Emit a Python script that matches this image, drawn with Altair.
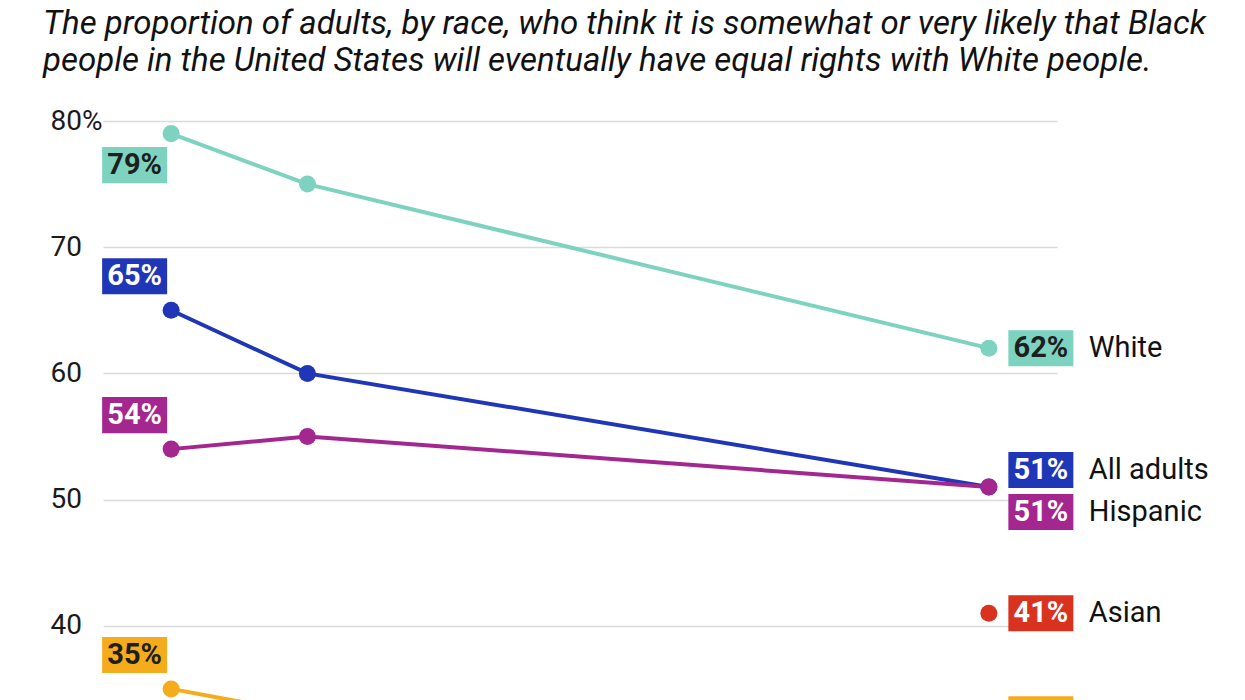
import altair as alt
import pandas as pd

# ---- data ----
years = [2018, 2019, 2024]
series = ["White", "All adults", "Hispanic", "Asian", "Black"]
white = [79, 75, 62]
all_adults = [65, 60, 51]
hispanic = [54, 55, 51]
asian = [None, None, 41]
black = [35, 33, 33]
colors = ["#7dd3c0", "#1f36b7", "#a4268f", "#d9331f", "#f4ac1c"]
y_ticks = [30, 40, 50, 60, 70, 80]
title_lines = [
    "The proportion of adults, by race, who think it is somewhat or very likely that Black",
    "people in the United States will eventually have equal rights with White people.",
]

values = {"White": white, "All adults": all_adults, "Hispanic": hispanic,
          "Asian": asian, "Black": black}
rows = []
for s in series:
    for yr, v in zip(years, values[s]):
        if v is not None:
            rows.append({"year": yr, "group": s, "pct": v, "label": f"{v}%"})
df = pd.DataFrame(rows)

FONT = "Roboto"
dark_text = {"White": "#1e1e1e", "Black": "#1e1e1e"}

x = alt.X("year:Q", scale=alt.Scale(domain=[2017.5, 2024.5], nice=False, zero=False), axis=None)
y = alt.Y(
    "pct:Q",
    scale=alt.Scale(domain=[30, 80], nice=False, zero=False),
    axis=alt.Axis(
        values=y_ticks, title=None, grid=True, gridColor="#dadada", gridWidth=1.5,
        domain=False, ticks=False, tickSize=0, labelFont=FONT, labelFontSize=28,
        labelColor="#1a1a1a", labelAlign="left", labelBaseline="middle", labelPadding=53,
        labelExpr="datum.value == 80 ? '80%' : datum.label",
    ),
)
color = alt.Color("group:N", scale=alt.Scale(domain=series, range=colors), legend=None)

base = alt.Chart(df)
lines = base.mark_line(strokeWidth=4).encode(x=x, y=y, color=color, detail="group:N")
points = base.mark_circle(size=290, opacity=1).encode(x=x, y=y, color=color)

BOX = "M-1,-0.554L1,-0.554L1,0.554L-1,0.554Z"

def label_layers(s, yr, dx, dy, with_name):
    sel = base.transform_filter((alt.datum.group == s) & (alt.datum.year == yr))
    out = [
        sel.mark_point(shape=BOX, size=4225, filled=True, opacity=1, strokeWidth=0,
                       xOffset=dx, yOffset=dy).encode(x=x, y=y, color=color),
        sel.mark_text(font=FONT, fontSize=29, fontWeight="bold", align="center",
                      baseline="middle", xOffset=dx, yOffset=dy,
                      color=dark_text.get(s, "#ffffff")).encode(x=x, y=y, text="label:N"),
    ]
    if with_name:
        out.append(sel.mark_text(font=FONT, fontSize=29, align="left", baseline="middle",
                                 xOffset=dx + 48, yOffset=dy, color="#111111")
                   .encode(x=x, y=y, text="group:N"))
    return out

left_nudge = {"White": 31.5, "All adults": -34, "Hispanic": -34, "Black": -34}
right_nudge = {"White": 0, "All adults": -17, "Hispanic": 25, "Asian": 0, "Black": 0}

layers = [lines, points]
for s, dy in left_nudge.items():
    layers += label_layers(s, years[0], -36.5, dy, False)
for s, dy in right_nudge.items():
    layers += label_layers(s, years[-1], 52, dy, True)

chart = alt.layer(*layers).properties(
    width=954, height=631,
    title=alt.Title(title_lines, font=FONT, fontSize=33, fontStyle="italic", fontWeight="normal",
                    color="#111111", anchor="start", frame="group", baseline="alphabetic",
                    lineHeight=37, dx=-60, dy=-3, offset=0),
    padding={"left": 95, "top": 113, "right": 180, "bottom": 10},
    autosize=alt.AutoSizeParams(type="none"),
    background="white",
).configure_view(stroke=None)

chart.save("out.html", embed_options={"renderer": "svg", "actions": False})
